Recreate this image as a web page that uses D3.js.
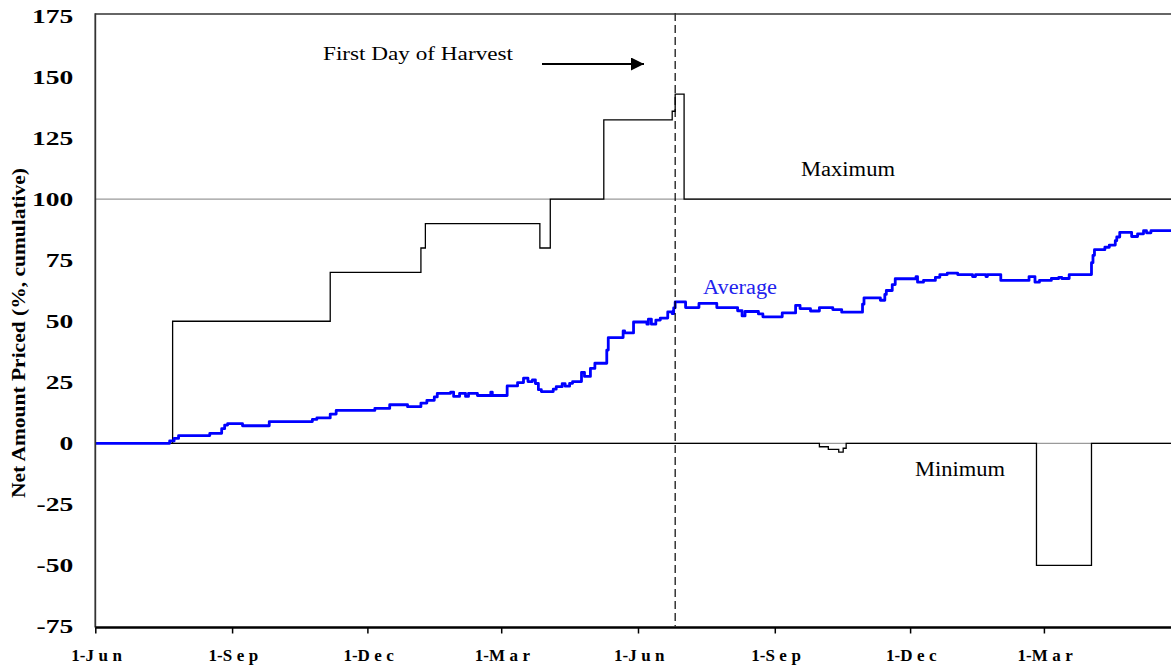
<!DOCTYPE html>
<html><head><meta charset="utf-8">
<script src="https://cdn.jsdelivr.net/npm/d3@7"></script>
<style>
body{margin:0;background:#fff;}
svg{display:block;font-family:"Liberation Serif","Times New Roman",serif;}
</style>
</head><body>
<svg id="chart" width="1171" height="669"></svg>
<script>
// ---------------- data ----------------
const xTickDates = ["2001-06-01","2001-09-01","2001-12-01","2002-03-01","2002-06-01","2002-09-01","2002-12-01","2003-03-01"];
const xTickLabels = ["1-Jun","1-Sep","1-Dec","1-Mar","1-Jun","1-Sep","1-Dec","1-Mar"];
const yTickValues = [-75,-50,-25,0,25,50,75,100,125,150,175];
const referenceLines = [0, 100];
const harvestDate = "2002-06-26";
const dateRange = ["2001-06-01","2003-05-31"];

const maximumSeries = [
  ["2001-06-01",0],["2001-07-21",0],["2001-07-23",50],["2001-11-06",70],["2002-01-06",80],
  ["2002-01-09",90],["2002-03-27",80],["2002-04-03",100],["2002-05-09",132.5],["2002-06-24",136],
  ["2002-06-26",143],["2002-07-02",100],["2003-05-31",100]
];
const minimumSeries = [
  ["2001-06-01",0],["2002-10-01",-1.4],["2002-10-07",-2.5],["2002-10-14",-3.6],["2002-10-17",-2],
  ["2002-10-19",0],["2003-02-24",-50],["2003-04-02",0],["2003-05-31",0]
];
const averageSeries = [
  ["2001-06-01",0],["2001-07-21",1],["2001-07-24",2],["2001-07-27",3.2],["2001-08-17",4.1],
  ["2001-08-25",6],["2001-08-27",7.5],["2001-08-29",8.1],["2001-09-08",7.2],["2001-09-26",8.9],
  ["2001-10-25",9.8],["2001-10-28",10.4],["2001-11-06",12],["2001-11-10",13.5],["2001-12-06",14.3],
  ["2001-12-16",15.8],["2001-12-28",15.0],["2002-01-06",16.5],["2002-01-10",17.6],["2002-01-15",19.0],
  ["2002-01-17",20.5],["2002-01-26",21.0],["2002-01-28",19.2],["2002-02-01",20.5],["2002-02-05",19.2],
  ["2002-02-07",20.5],["2002-02-13",19.6],["2002-02-22",21],["2002-02-23",19.6],["2002-03-05",23.5],
  ["2002-03-12",24.9],["2002-03-16",26.7],["2002-03-19",25.3],["2002-03-22",26.0],["2002-03-24",24.5],
  ["2002-03-26",22],["2002-03-28",21.2],["2002-04-05",22.2],["2002-04-07",23.2],["2002-04-11",24.4],
  ["2002-04-13",23.4],["2002-04-16",24.6],["2002-04-18",25.3],["2002-04-24",29.1],["2002-04-26",27.4],
  ["2002-04-30",30.7],["2002-05-03",32.8],["2002-05-11",38.2],["2002-05-12",43.3],["2002-05-22",46],
  ["2002-05-23",45.2],["2002-05-29",49.7],["2002-06-07",48.8],["2002-06-08",50.9],["2002-06-10",48.8],
  ["2002-06-13",50.5],["2002-06-16",51.3],["2002-06-21",53.8],["2002-06-24",53.1],["2002-06-25",55.5],
  ["2002-06-26",57.9],["2002-07-03",55.6],["2002-07-12",57.3],["2002-07-24",55.6],["2002-08-07",54.3],
  ["2002-08-10",52.2],["2002-08-12",54],["2002-08-21",53],["2002-08-24",51.8],["2002-09-06",53.4],
  ["2002-09-15",56.5],["2002-09-18",55.2],["2002-09-25",54.2],["2002-10-01",55.6],["2002-10-10",54.8],
  ["2002-10-16",53.7],["2002-10-30",57],["2002-10-31",59.6],["2002-11-11",58.6],["2002-11-14",61],
  ["2002-11-15",62.6],["2002-11-19",65],["2002-11-21",67.4],["2002-12-05",68.3],["2002-12-06",66],
  ["2002-12-10",66.7],["2002-12-18",68],["2002-12-21",69.1],["2002-12-26",69.7],["2003-01-02",69.1],
  ["2003-01-12",68.3],["2003-01-14",69.1],["2003-01-21",68.3],["2003-01-22",69.1],["2003-01-31",66.7],
  ["2003-02-19",68.3],["2003-02-23",66],["2003-02-26",66.7],["2003-03-06",67.5],["2003-03-11",68],
  ["2003-03-13",67.5],["2003-03-18",69.1],["2003-04-02",74],["2003-04-03",77],["2003-04-04",79.3],
  ["2003-04-11",80.3],["2003-04-14",81.2],["2003-04-18",83],["2003-04-19",84.5],["2003-04-21",86.4],
  ["2003-04-29",84.7],["2003-05-03",85.8],["2003-05-07",87.1],["2003-05-09",86.2],["2003-05-12",87.1],
  ["2003-05-31",87.1]
];
const seriesLabels = ["Maximum","Average","Minimum"];
const annotationText = "First Day of Harvest";
const yAxisTitle = "Net Amount Priced (%, cumulative)";

// ---------------- layout ----------------
const W = 1171, H = 669;
const plotLeft = 95.3, plotTop = 16, plotBottom = 626.5;
const pxPerDay = 542.7 / 365;
const parse = d3.utcParse("%Y-%m-%d");
const FONT = '"Liberation Serif","Times New Roman",serif';

const x = d3.scaleUtc()
  .domain(dateRange.map(parse))
  .range([plotLeft, plotLeft + d3.utcDay.count(parse(dateRange[0]), parse(dateRange[1])) * pxPerDay]);
const y = d3.scaleLinear().domain([-75, 175]).range([plotBottom, plotTop]);

const svg = d3.select("#chart");
svg.append("rect").attr("width", W).attr("height", H).attr("fill", "#fff");

const defs = svg.append("defs");
defs.append("clipPath").attr("id", "clip")
  .append("rect").attr("x", plotLeft).attr("y", plotTop - 3)
  .attr("width", W - plotLeft).attr("height", plotBottom - plotTop + 3);

const plot = svg.append("g").attr("clip-path", "url(#clip)");

// reference lines
plot.selectAll("line.ref").data(referenceLines).join("line")
  .attr("class", "ref")
  .attr("x1", plotLeft).attr("x2", W)
  .attr("y1", d => y(d)).attr("y2", d => y(d))
  .attr("stroke", "#9a9a9a").attr("stroke-width", 1.2);

const line = d3.line()
  .x(d => x(parse(d[0])))
  .y(d => y(d[1]))
  .curve(d3.curveStepAfter);

plot.append("path").datum(maximumSeries).attr("d", line)
  .attr("fill", "none").attr("stroke", "#000").attr("stroke-width", 1.3);
plot.append("path").datum(minimumSeries).attr("d", line)
  .attr("fill", "none").attr("stroke", "#000").attr("stroke-width", 1.3);
plot.append("path").datum(averageSeries).attr("d", line)
  .attr("fill", "none").attr("stroke", "#0000ff").attr("stroke-width", 2.8)
  .attr("stroke-linejoin", "round");

// harvest dashed line
plot.append("line")
  .attr("x1", x(parse(harvestDate))).attr("x2", x(parse(harvestDate)))
  .attr("y1", plotTop - 3).attr("y2", plotBottom)
  .attr("stroke", "#000").attr("stroke-width", 1.2).attr("stroke-dasharray", "8,4");

// frame
svg.append("line").attr("x1", plotLeft).attr("x2", W).attr("y1", plotTop - 2).attr("y2", plotTop - 2)
  .attr("stroke", "#333").attr("stroke-width", 1.5);
svg.append("line").attr("x1", plotLeft).attr("x2", plotLeft).attr("y1", plotTop - 2.75).attr("y2", plotBottom + 1)
  .attr("stroke", "#333").attr("stroke-width", 1.8);

// x axis
const xAxis = d3.axisBottom(x)
  .tickValues(xTickDates.map(parse))
  .tickSize(6).tickSizeOuter(0)
  .tickFormat((d, i) => xTickLabels[i]);
const gx = svg.append("g").attr("transform", `translate(0,${plotBottom + 1})`).call(xAxis);
gx.select(".domain").remove();
gx.selectAll(".tick line").attr("stroke", "#000").attr("stroke-width", 1.5);
gx.selectAll(".tick text").each(function(d, i) {
  const t = d3.select(this);
  const lab = xTickLabels[i];
  t.text(null).attr("y", 0).attr("dy", null)
    .attr("transform", "translate(3,33)")
    .attr("font-family", FONT)
    .attr("font-size", 17).attr("font-weight", "bold").attr("fill", "#000");
  t.append("tspan").text(lab.slice(0, 2));
  t.append("tspan").attr("letter-spacing", "4.5px").text(lab.slice(2));
});
svg.append("line").attr("x1", plotLeft).attr("x2", W).attr("y1", plotBottom + 1).attr("y2", plotBottom + 1)
  .attr("stroke", "#000").attr("stroke-width", 2.5);

// y axis labels
const kY = 1.45;
const yAxis = d3.axisLeft(y).tickValues(yTickValues).tickSize(0).tickPadding(0)
  .tickFormat(d => String(d));
const gy = svg.append("g").attr("transform", `translate(${plotLeft},0)`).call(yAxis);
gy.select(".domain").remove();
gy.selectAll(".tick text")
  .attr("x", -22 / kY).attr("dy", "0.34em")
  .attr("transform", `scale(${kY},1)`)
  .attr("font-family", FONT)
  .attr("font-size", 19).attr("font-weight", "bold").attr("fill", "#000");

// y axis title
svg.append("text")
  .attr("transform", "translate(25,333) rotate(-90)")
  .attr("text-anchor", "middle")
  .attr("font-size", 19).attr("font-weight", "bold")
  .attr("textLength", 330).attr("lengthAdjust", "spacingAndGlyphs")
  .text(yAxisTitle);

// annotation
svg.append("text").attr("x", 323).attr("y", 60)
  .attr("font-size", 18.5).attr("textLength", 190).attr("lengthAdjust", "spacingAndGlyphs")
  .text(annotationText);
defs.append("marker").attr("id", "arrow")
  .attr("viewBox", "0 0 10 10").attr("refX", 10).attr("refY", 5)
  .attr("markerWidth", 7).attr("markerHeight", 6.5).attr("markerUnits", "strokeWidth")
  .attr("orient", "auto")
  .append("path").attr("d", "M0,0L10,5L0,10Z").attr("fill", "#000");
svg.append("line").attr("x1", 542).attr("x2", 644).attr("y1", 64).attr("y2", 64)
  .attr("stroke", "#000").attr("stroke-width", 2).attr("marker-end", "url(#arrow)");

// series labels
const labelPos = [
  {x: 801, y: 176, len: 94, color: "#000"},
  {x: 703, y: 294, len: 74, color: "#2222ee"},
  {x: 915, y: 476, len: 90, color: "#000"}
];
svg.selectAll("text.slabel").data(seriesLabels).join("text")
  .attr("class", "slabel")
  .attr("x", (d, i) => labelPos[i].x).attr("y", (d, i) => labelPos[i].y)
  .attr("font-size", 20).attr("fill", (d, i) => labelPos[i].color)
  .attr("textLength", (d, i) => labelPos[i].len).attr("lengthAdjust", "spacingAndGlyphs")
  .text(d => d);
</script>
</body></html>
